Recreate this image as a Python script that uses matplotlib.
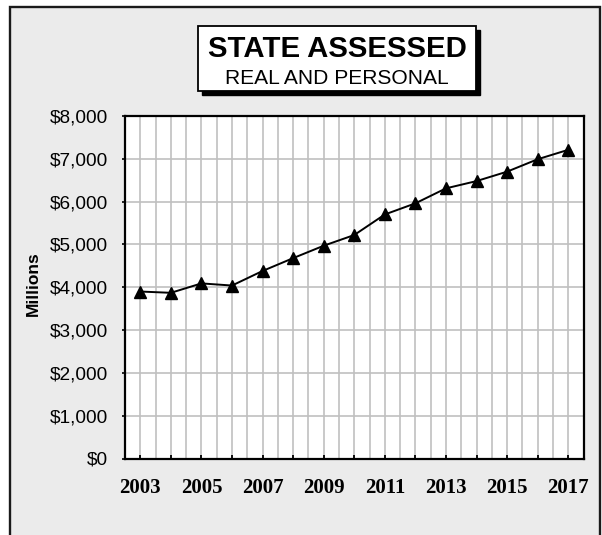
import matplotlib
matplotlib.use("Agg")
from matplotlib import pyplot as plt
from matplotlib.patches import Rectangle
from matplotlib.ticker import FuncFormatter, MultipleLocator
import numpy as np

# Chart data
YEARS = [2003, 2004, 2005, 2006, 2007, 2008, 2009, 2010, 2011, 2012, 2013, 2014, 2015, 2016, 2017]
VALUES = [3900, 3870, 4090, 4040, 4380, 4680, 4970, 5220, 5700, 5960, 6310, 6480, 6700, 6990, 7210]
LABELED_YEARS = [2003, 2005, 2007, 2009, 2011, 2013, 2015, 2017]
TITLE = "STATE ASSESSED"
SUBTITLE = "REAL AND PERSONAL"
Y_LABEL = "Millions"

W, H = 602, 535
DPI = 100
BG = "#EBEBEB"
GRID = "#C0C0C0"


def px(x, y):
    # pixel position (top-left origin) -> figure fraction
    return x / W, 1 - y / H


fig = plt.figure(figsize=(W / DPI, H / DPI), dpi=DPI)
fig.patch.set_facecolor("white")

# outer grey frame, bottom edge runs off the image
x0, y0 = px(10, 6.5)
x1, y1 = px(600, 545)
fig.add_artist(Rectangle((x0, y1), x1 - x0, y0 - y1, transform=fig.transFigure,
                         facecolor=BG, edgecolor="#1a1a1a", linewidth=1.7, zorder=0))

# title box with drop shadow
bx0, by0 = px(198, 26)
bx1, by1 = px(476, 91)
sx, sy = 4 / W, 4 / H
fig.add_artist(Rectangle((bx0 + sx, by1 - sy), bx1 - bx0, by0 - by1, transform=fig.transFigure,
                         facecolor="black", edgecolor="black", linewidth=1, zorder=1))
fig.add_artist(Rectangle((bx0, by1), bx1 - bx0, by0 - by1, transform=fig.transFigure,
                         facecolor="white", edgecolor="black", linewidth=1.3, zorder=2))
tx, ty = px(337, 57)
fig.text(tx, ty, TITLE, ha="center", va="baseline", fontsize=21.2, fontweight="bold",
         family="Liberation Sans", zorder=3)
tx, ty = px(337, 83.5)
fig.text(tx, ty, SUBTITLE, ha="center", va="baseline", fontsize=15.1,
         family="Liberation Sans", zorder=3)

# plot area
left, top = px(125, 116)
right, bottom = px(583.5, 458.5)
ax = fig.add_axes([left, bottom, right - left, top - bottom])
ax.set_facecolor("white")

ax.plot(YEARS, VALUES, color="black", linewidth=1.4, marker="^", markersize=8.6,
        markerfacecolor="black", markeredgecolor="black", zorder=3, clip_on=False)

ax.set_xlim(YEARS[0] - 0.5, YEARS[-1] + 0.5)
ax.set_ylim(0, 8000)

ax.xaxis.set_major_locator(MultipleLocator(1))
ax.xaxis.set_minor_locator(MultipleLocator(0.5))
ax.xaxis.set_major_formatter(FuncFormatter(lambda v, _: str(int(round(v))) if int(round(v)) in LABELED_YEARS else ""))
ax.yaxis.set_major_locator(MultipleLocator(1000))
ax.yaxis.set_major_formatter(FuncFormatter(lambda v, _: "${:,.0f}".format(v)))

ax.grid(True, which="both", axis="x", color=GRID, linewidth=1.2, zorder=1)
ax.grid(True, which="major", axis="y", color=GRID, linewidth=1.2, zorder=1)
ax.set_axisbelow(True)

ax.tick_params(axis="x", which="major", direction="in", length=3, width=1.3, color="black",
               pad=14, labelsize=15)
ax.tick_params(axis="x", which="minor", length=0)
ax.tick_params(axis="y", which="major", direction="out", length=2.5, width=1.2, color="black",
               pad=9.7, labelsize=13.7)
for lbl in ax.get_xticklabels():
    lbl.set_family("Liberation Serif")
    lbl.set_fontweight("bold")
for lbl in ax.get_yticklabels():
    lbl.set_family("Liberation Sans")

for side in ["left", "right", "top", "bottom"]:
    ax.spines[side].set_linewidth(1.6)
    ax.spines[side].set_color("black")

lx, ly = px(33, 284)
fig.text(lx, ly, Y_LABEL, rotation=90, ha="center", va="center", fontsize=12.5,
         fontweight="bold", family="Liberation Sans")

fig.savefig("out.png", dpi=DPI, facecolor=fig.get_facecolor())
